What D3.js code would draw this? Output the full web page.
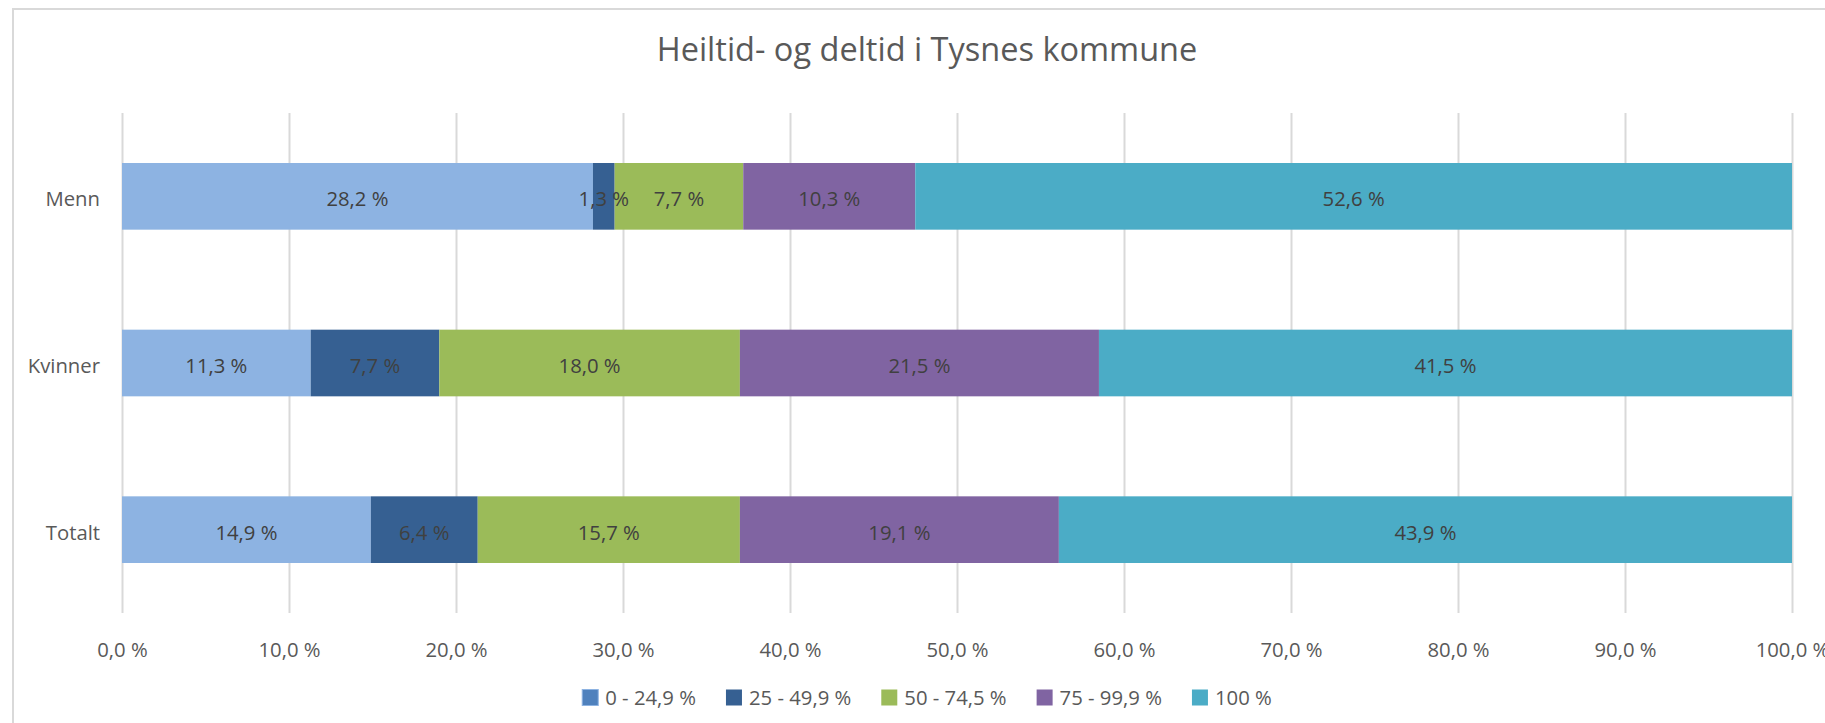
<!DOCTYPE html>
<html>
<head>
<meta charset="utf-8">
<script src="https://cdn.jsdelivr.net/npm/d3@7"></script>
<style>
  body { margin: 0; background: #fff; }
  #chart-heiltid { width: 1825px; height: 723px; }
  #chart-heiltid text { font-family: "Open Sans", sans-serif; }
</style>
</head>
<body>
<div id="chart-heiltid"></div>
<script>
const chartTitle = "Heiltid- og deltid i Tysnes kommune";
const categories = ["Menn", "Kvinner", "Totalt"];
const seriesNames = ["0 - 24,9 %", "25 - 49,9 %", "50 - 74,5 %", "75 - 99,9 %", "100 %"];
const menn = [28.2, 1.3, 7.7, 10.3, 52.6];
const kvinner = [11.3, 7.7, 18.0, 21.5, 41.5];
const totalt = [14.9, 6.4, 15.7, 19.1, 43.9];
const xTicks = [0, 10, 20, 30, 40, 50, 60, 70, 80, 90, 100];
const barColors = ["#8db3e2", "#366092", "#9bbb59", "#8064a2", "#4bacc6"];
const legendColors = ["#4f81bd", "#366092", "#9bbb59", "#8064a2", "#4bacc6"];

function renderHeiltidChart(containerId) {
  const container = d3.select(`#${containerId}`);
  container.selectAll("*").remove();

  const width = 1825;
  const height = 723;
  const margin = { top: 113, right: 33, bottom: 110, left: 122 };
  const innerWidth = width - margin.left - margin.right;
  const innerHeight = height - margin.top - margin.bottom;

  const pct = d => d3.format(".1f")(d).replace(".", ",") + " %";

  const svg = container.append("svg")
    .attr("width", width)
    .attr("height", height);

  // outer chart frame (runs off the right/bottom edge like the original)
  svg.append("rect")
    .attr("x", 13)
    .attr("y", 9)
    .attr("width", width + 100)
    .attr("height", height + 100)
    .attr("fill", "#fff")
    .attr("stroke", "#d9d9d9")
    .attr("stroke-width", 2);

  svg.append("text")
    .attr("x", 927)
    .attr("y", 61)
    .attr("text-anchor", "middle")
    .style("font-size", "32.5px")
    .attr("fill", "#595959")
    .text(chartTitle);

  const g = svg.append("g")
    .attr("transform", `translate(${margin.left},${margin.top})`);

  const x = d3.scaleLinear()
    .domain([0, 100])
    .range([0, innerWidth])
    .clamp(true);

  const y = d3.scaleBand()
    .domain(categories)
    .range([0, innerHeight])
    .paddingInner(0.6)
    .paddingOuter(0.3);

  // gridlines
  g.append("g")
    .attr("transform", `translate(0,${innerHeight})`)
    .call(d3.axisBottom(x).tickValues(xTicks).tickSize(-innerHeight).tickFormat(""))
    .call(a => a.select(".domain").remove())
    .selectAll("line")
    .attr("stroke", "#d9d9d9")
    .attr("stroke-width", 2);

  // x tick labels
  g.append("g")
    .attr("transform", `translate(0,${innerHeight})`)
    .call(d3.axisBottom(x).tickValues(xTicks).tickSize(0).tickPadding(30).tickFormat(pct))
    .call(a => a.select(".domain").remove())
    .selectAll("text")
    .style("font-size", "20.3px")
    .attr("fill", "#595959");

  // category labels
  g.append("g")
    .call(d3.axisLeft(y).tickSize(0).tickPadding(22))
    .call(a => a.select(".domain").remove())
    .selectAll("text")
    .attr("dy", "0.5em")
    .style("font-size", "20.3px")
    .attr("fill", "#595959");

  const rows = [menn, kvinner, totalt];
  const table = categories.map((c, i) => {
    const row = { category: c };
    seriesNames.forEach((s, j) => { row[s] = rows[i][j]; });
    return row;
  });

  const stacked = d3.stack().keys(seriesNames)(table);

  g.append("g").selectAll("g")
    .data(stacked)
    .join("g")
    .attr("fill", (d, i) => barColors[i])
    .selectAll("rect")
    .data(d => d)
    .join("rect")
    .attr("x", d => x(d[0]))
    .attr("y", d => y(d.data.category))
    .attr("width", d => x(d[1]) - x(d[0]))
    .attr("height", y.bandwidth());

  // data labels on top of all bars
  const labels = stacked.flatMap(s => s.map(p => ({ p, key: s.key })));
  g.append("g").selectAll("text")
    .data(labels)
    .join("text")
    .attr("x", d => (x(d.p[0]) + x(d.p[1])) / 2)
    .attr("y", d => y(d.p.data.category) + y.bandwidth() / 2)
    .attr("dy", "0.5em")
    .attr("text-anchor", "middle")
    .style("font-size", "20.3px")
    .attr("fill", "#404040")
    .text(d => pct(d.p.data[d.key]));

  // legend
  const gap = 30;
  const legend = svg.append("g");
  let cursor = 0;
  seriesNames.forEach((name, i) => {
    const item = legend.append("g").attr("transform", `translate(${cursor},0)`);
    item.append("rect")
      .attr("x", 0)
      .attr("y", -8)
      .attr("width", 16)
      .attr("height", 16)
      .attr("fill", legendColors[i])
      .attr("stroke", i === 0 ? "#8db3e2" : "none");
    const t = item.append("text")
      .attr("x", 23)
      .attr("dy", "0.35em")
      .style("font-size", "20.3px")
      .attr("fill", "#595959")
      .text(name);
    cursor += 23 + t.node().getComputedTextLength() + gap;
  });
  const legendWidth = cursor - gap;
  legend.attr("transform", `translate(${927 - legendWidth / 2},697.5)`);
}

document.addEventListener("DOMContentLoaded", () => {
  renderHeiltidChart("chart-heiltid");
});
</script>
</body>
</html>
